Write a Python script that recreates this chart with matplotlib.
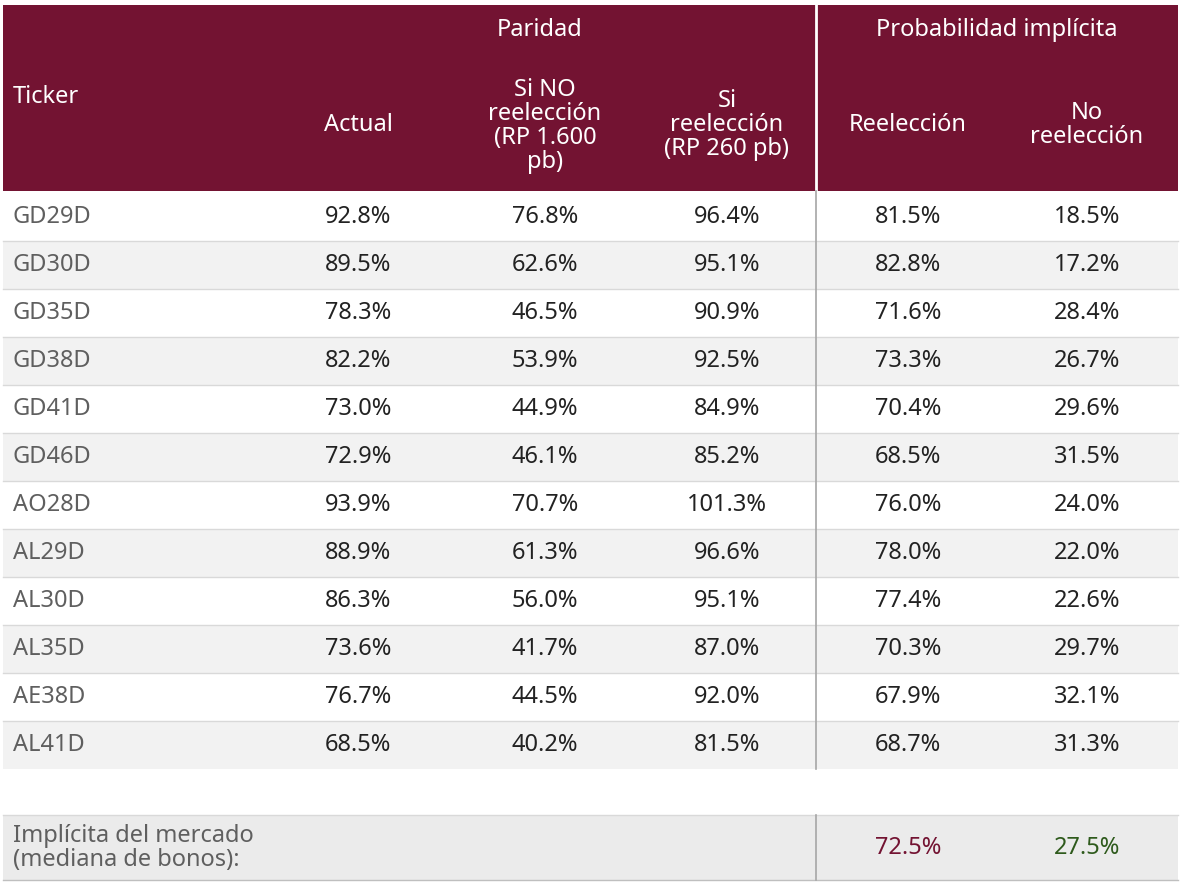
import matplotlib.pyplot as plt
from matplotlib.patches import Rectangle

tickers = ["GD29D", "GD30D", "GD35D", "GD38D", "GD41D", "GD46D",
           "AO28D", "AL29D", "AL30D", "AL35D", "AE38D", "AL41D"]
actual = ["92.8%", "89.5%", "78.3%", "82.2%", "73.0%", "72.9%",
          "93.9%", "88.9%", "86.3%", "73.6%", "76.7%", "68.5%"]
si_no = ["76.8%", "62.6%", "46.5%", "53.9%", "44.9%", "46.1%",
         "70.7%", "61.3%", "56.0%", "41.7%", "44.5%", "40.2%"]
si_re = ["96.4%", "95.1%", "90.9%", "92.5%", "84.9%", "85.2%",
         "101.3%", "96.6%", "95.1%", "87.0%", "92.0%", "81.5%"]
prob_re = ["81.5%", "82.8%", "71.6%", "73.3%", "70.4%", "68.5%",
           "76.0%", "78.0%", "77.4%", "70.3%", "67.9%", "68.7%"]
prob_no = ["18.5%", "17.2%", "28.4%", "26.7%", "29.6%", "31.5%",
           "24.0%", "22.0%", "22.6%", "29.7%", "32.1%", "31.3%"]
mkt_re = "72.5%"
mkt_no = "27.5%"

maroon = "#731332"
green = "#2e5a1c"
grey_txt = "#5f5f5f"
plt.rcParams['font.family'] = ['Noto Sans', 'DejaVu Sans']

fig = plt.figure(figsize=(11.82, 8.86), dpi=100)
ax = fig.add_axes([0, 0, 1, 1])
ax.set_xlim(0, 1182)
ax.set_ylim(886, 0)
ax.axis('off')

fs = 17
# header
ax.add_patch(Rectangle((3, 5), 1175, 186, color=maroon, lw=0))
ax.plot([816, 816], [5, 190], color="white", lw=2)
hw = dict(color="white", fontweight="bold", fontsize=fs, ha="center", va="center",
          linespacing=1.0)
ax.text(13, 97, "Ticker", **{**hw, "ha": "left"})
ax.text(540, 30, "Paridad", **hw)
ax.text(997, 30, "Probabilidad implícita", **hw)
ax.text(358, 125, "Actual", **hw)
ax.text(545, 126, "Si NO\nreelección\n(RP 1.600\npb)", **hw)
ax.text(727, 125, "Si\nreelección\n(RP 260 pb)", **hw)
ax.text(908, 125, "Reelección", **hw)
ax.text(1087, 125, "No\nreelección", **hw)

cols_x = [358, 545, 727, 908, 1087]
rh = 48
y0 = 193
for i, t in enumerate(tickers):
    top = y0 + i * rh
    if i % 2 == 1:
        ax.add_patch(Rectangle((3, top), 1175, rh, color="#f2f2f2", lw=0))
    if i > 0:
        ax.plot([3, 1178], [top, top], color="#d9d9d9", lw=1)
    yc = top + rh / 2
    ax.text(13, yc, t, color=grey_txt, fontweight="bold", fontsize=fs, va="center")
    for x, v in zip(cols_x, [actual[i], si_no[i], si_re[i], prob_re[i], prob_no[i]]):
        ax.text(x, yc, v, color="#222222", fontsize=fs, ha="center", va="center")
ax.plot([816, 816], [191, y0 + rh * len(tickers)], color="#a6a6a6", lw=1.2)

# market row
ax.add_patch(Rectangle((3, 815), 1175, 65, color="#ebebeb", lw=0))
ax.plot([3, 1178], [815, 815], color="#d9d9d9", lw=1)
ax.plot([3, 1178], [880, 880], color="#bfbfbf", lw=1)
ax.plot([816, 816], [815, 880], color="#a6a6a6", lw=1.2)
ax.text(13, 848, "Implícita del mercado\n(mediana de bonos):", color=grey_txt,
        fontweight="bold", fontsize=fs, va="center", linespacing=1.0)
ax.text(908, 848, mkt_re, color=maroon, fontweight="bold", fontsize=fs,
        ha="center", va="center")
ax.text(1087, 848, mkt_no, color=green, fontweight="bold", fontsize=fs,
        ha="center", va="center")

fig.savefig("out.png", dpi=100)
